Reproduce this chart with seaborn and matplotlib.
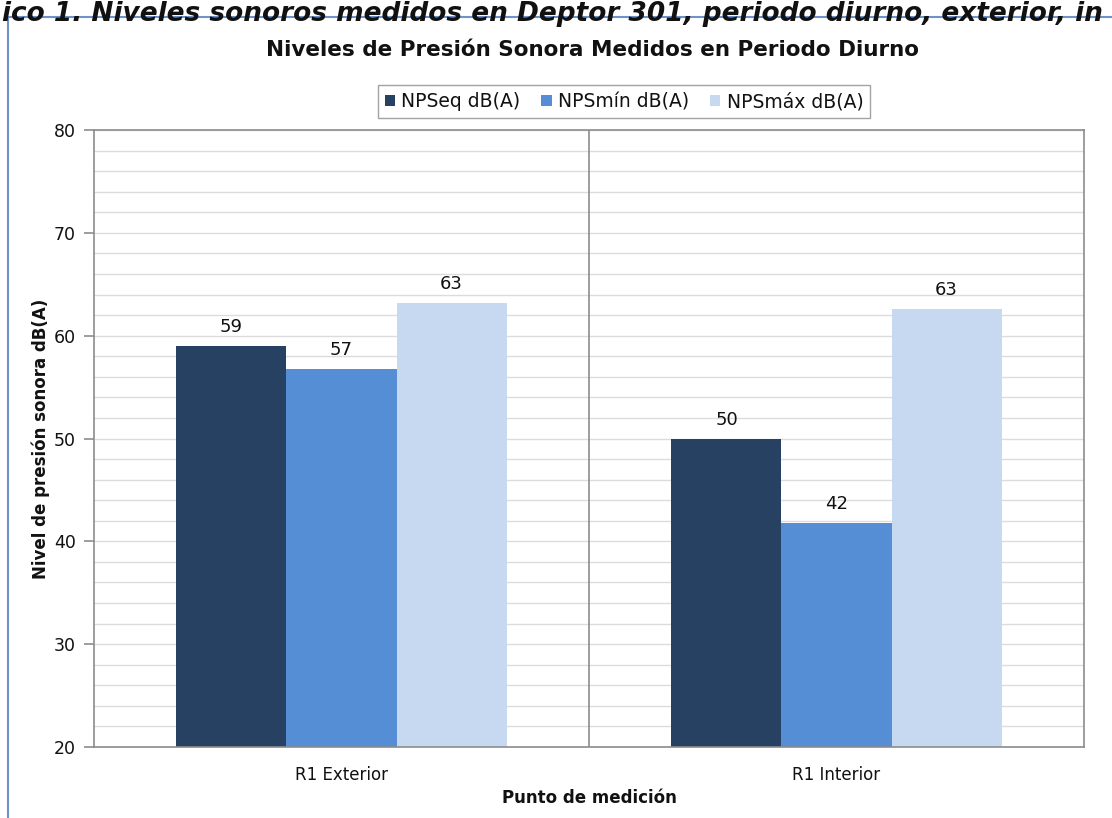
import pandas as pd
import seaborn as sns
import matplotlib.pyplot as plt
from matplotlib.patches import Rectangle
from matplotlib.ticker import MultipleLocator

# Data
puntos = ['R1 Exterior', 'R1 Interior']
series = ['NPSeq dB(A)', 'NPSmín dB(A)', 'NPSmáx dB(A)']
npseq = [59.0, 50.0]
npsmin = [56.8, 41.8]
npsmax = [63.2, 62.6]
colores = ['#264161', '#558ED5', '#C6D9F1']

df = pd.DataFrame({
    'Punto': puntos * 3,
    'Serie': [s for s in series for _ in puntos],
    'Valor': npseq + npsmin + npsmax,
})

sns.set_style('white')
plt.rcParams['font.family'] = ['DejaVu Sans']

fig = plt.figure(figsize=(11.12, 8.18), dpi=100)
ax = fig.add_axes([94/1112, 1 - 747/818, (1084 - 94)/1112, (747 - 130)/818])

sns.barplot(data=df, x='Punto', y='Valor', hue='Serie', palette=colores,
            saturation=1, width=0.667, linewidth=0, ax=ax, legend=True)

for cont in ax.containers:
    ax.bar_label(cont, fmt='%.0f', padding=7, fontsize=13, color='#111111')

ax.set_ylim(20, 80)
ax.set_xlim(-0.5, 1.5)
ax.yaxis.set_major_locator(MultipleLocator(10))
ax.yaxis.set_minor_locator(MultipleLocator(2))
ax.grid(axis='y', which='both', color='#DCDCDC', lw=1)
ax.set_axisbelow(True)
ax.axvline(0.5, color='#8C8C8C', lw=1.2, zorder=1)

for s in ax.spines.values():
    s.set_visible(True)
    s.set_color('#8C8C8C')
    s.set_linewidth(1.2)

ax.tick_params(axis='y', which='major', direction='out', length=7, width=1.2,
               color='#8C8C8C', labelsize=12.5, labelcolor='#111111', pad=6, left=True)
ax.tick_params(axis='y', which='minor', length=0)
ax.tick_params(axis='x', length=0, labelsize=12, labelcolor='#111111', pad=14)

ax.set_xlabel('Punto de medición', fontsize=12, fontweight='bold', labelpad=3, color='#111111')
ax.set_ylabel('Nivel de presión sonora dB(A)', fontsize=12, fontweight='bold', labelpad=3,
              color='#111111')

ax.legend(loc='center', bbox_to_anchor=(624/1112, 1 - 101.5/818),
          bbox_transform=fig.transFigure, ncol=3, fontsize=13.5, frameon=True,
          fancybox=False, edgecolor='#8C8C8C', handlelength=0.55, handleheight=0.55,
          handletextpad=0.35, columnspacing=1.1, borderpad=0.35, labelcolor='#111111')
ax.get_legend().get_frame().set_linewidth(1.0)

fig.text(592/1112, 1 - 50/818, 'Niveles de Presión Sonora Medidos en Periodo Diurno',
         ha='center', va='center', fontsize=15.5, fontweight='bold', color='#111111')

# outer chart frame, cut off by the screenshot
fig.patches.append(Rectangle((8/1112, -0.1), 1.2, (818 - 17)/818 + 0.1,
                             transform=fig.transFigure, fill=False,
                             edgecolor='#6E93CB', lw=1.5))

# visible part of the caption above the chart, stretched to the full width
cap = fig.text(2/1112, 1 - 1/818,
               'ico 1. Niveles sonoros medidos en Deptor 301, periodo diurno, exterior, in',
               ha='left', va='top', fontsize=16, fontweight='bold',
               fontstyle='italic', color='#111111')
fig.canvas.draw()
w = cap.get_window_extent().width
cap.set_fontsize(16 * 1104 / w)

fig.savefig('out.png', dpi=100)
